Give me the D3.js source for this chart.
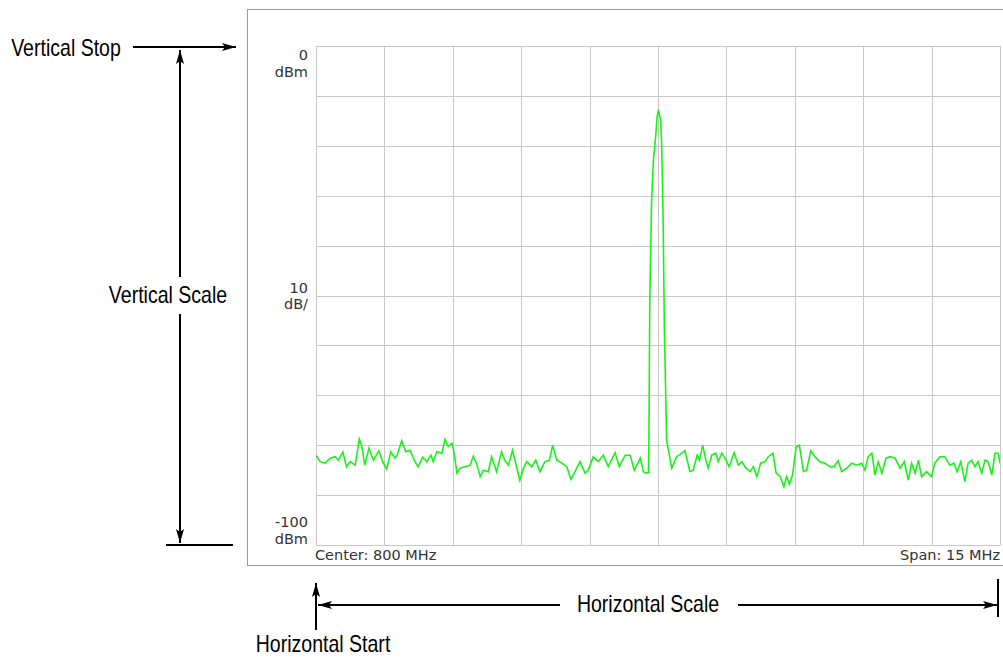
<!DOCTYPE html>
<html>
<head>
<meta charset="utf-8">
<script src="https://cdn.jsdelivr.net/npm/d3@7"></script>
<style>
    body { margin: 0; background: #fff; }
    .note { font-family: 'Liberation Sans', Arial, sans-serif; font-size: 23px; fill: #000; }
    .scr { font-family: 'DejaVu Sans', Verdana, sans-serif; font-size: 14.5px; fill: #333; }
    .grid line { stroke: #c8c8c8; stroke-width: 1; shape-rendering: crispEdges; }
    .grid .domain { display: none; }
</style>
</head>
<body>
<svg id="chart" width="1003" height="658"></svg>
<script>
'use strict';

//analyzer settings
var centerMHz = 800;
var spanMHz = 15;
var refLevel = 0;
var bottomLevel = -100;
var divisions = 10;

//screen readouts: [value line, unit line]
var levelLabels = [['0', 'dBm'], ['10', 'dB/'], ['-100', 'dBm']];
var footLabels = ['Center: 800 MHz', 'Span: 15 MHz'];
var notes = ['Vertical Stop', 'Vertical Scale', 'Horizontal Scale', 'Horizontal Start'];

//trace (MHz / dBm)
var freqs = [
    792.50, 792.59, 792.70, 792.81, 792.92, 792.99, 793.09, 793.17, 793.25, 793.36,
    793.45, 793.50, 793.57, 793.66, 793.76, 793.88, 793.96, 794.05, 794.14, 794.23,
    794.28, 794.38, 794.47, 794.56, 794.67, 794.74, 794.84, 794.93, 795.02, 795.07,
    795.15, 795.26, 795.33, 795.40, 795.48, 795.53, 795.59, 795.66, 795.77, 795.88,
    795.95, 796.02, 796.10, 796.17, 796.28, 796.35, 796.46, 796.57, 796.64, 796.72,
    796.81, 796.89, 796.97, 797.05, 797.12, 797.23, 797.32, 797.41, 797.52, 797.62,
    797.69, 797.78, 797.89, 798.00, 798.09, 798.18, 798.29, 798.40, 798.47, 798.58,
    798.69, 798.80, 798.91, 799.06, 799.15, 799.28, 799.39, 799.48, 799.61, 799.68,
    799.75, 799.79,
    799.80, 799.82, 799.86, 799.90, 799.95, 799.98, 800.01, 800.06, 800.08, 800.11,
    800.14, 800.19, 800.21,
    800.30, 800.41, 800.52, 800.59, 800.70, 800.77, 800.86, 800.91, 800.98, 801.05,
    801.10, 801.18, 801.27, 801.32, 801.40, 801.47, 801.56, 801.67, 801.76, 801.84,
    801.93, 802.02, 802.09, 802.17, 802.25, 802.35, 802.42, 802.52, 802.59, 802.68,
    802.76, 802.82, 802.88, 802.95, 803.03, 803.10, 803.19, 803.26, 803.35, 803.44,
    803.55, 803.66, 803.77, 803.86, 803.95, 804.03, 804.14, 804.25, 804.36, 804.47,
    804.54, 804.61, 804.69, 804.76, 804.83, 804.91, 805.00, 805.09, 805.20, 805.31,
    805.40, 805.49, 805.56, 805.64, 805.71, 805.78, 805.89, 806.00, 806.07, 806.18,
    806.29, 806.40, 806.49, 806.56, 806.64, 806.73, 806.80, 806.88, 806.95, 807.02,
    807.10, 807.17, 807.24, 807.32, 807.39, 807.46, 807.50
];
var levels = [
    -82.0, -83.3, -83.6, -82.6, -82.3, -83.0, -81.4, -84.3, -83.3, -84.0,
    -78.8, -80.0, -84.0, -80.6, -83.0, -81.1, -83.3, -84.8, -81.3, -82.6,
    -82.0, -79.1, -81.3, -81.0, -83.3, -84.3, -82.4, -83.3, -82.0, -83.3,
    -81.3, -81.6, -78.8, -80.3, -79.6, -81.6, -85.6, -84.6, -84.3, -84.0,
    -82.2, -83.6, -86.3, -85.0, -85.3, -82.3, -85.3, -81.3, -83.0, -84.0,
    -81.0, -84.0, -87.0, -84.6, -83.3, -84.3, -83.0, -85.3, -83.3, -83.0,
    -80.0, -83.0, -83.6, -84.3, -86.8, -85.3, -83.3, -85.6, -85.0, -82.3,
    -83.3, -82.0, -84.3, -81.5, -84.3, -82.0, -82.0, -85.0, -82.6, -85.3,
    -85.6, -85.5,
    -80.0, -50.9, -30.9, -22.8, -18.0, -14.2, -12.8, -15.0, -19.6, -32.9,
    -56.9, -79.0, -80.0,
    -84.6, -82.3, -81.6, -81.1, -85.3, -85.0, -82.0, -83.0, -80.0, -83.0,
    -84.6, -82.0, -81.6, -83.3, -81.6, -82.6, -84.3, -81.5, -84.0, -83.3,
    -84.6, -85.3, -84.3, -86.3, -83.6, -83.3, -82.3, -81.6, -85.6, -86.3,
    -88.3, -86.3, -87.8, -86.0, -80.3, -80.0, -85.3, -85.0, -81.1, -82.3,
    -83.3, -83.6, -84.3, -84.3, -83.1, -85.3, -84.6, -83.6, -84.0, -83.6,
    -85.0, -82.3, -81.6, -86.0, -83.3, -85.6, -82.6, -82.3, -82.6, -84.6,
    -83.3, -87.0, -83.6, -85.6, -83.0, -86.3, -85.3, -86.3, -83.6, -82.3,
    -82.3, -84.0, -83.6, -85.3, -83.3, -87.3, -83.6, -83.0, -84.3, -83.3,
    -85.6, -83.0, -83.3, -86.0, -81.6, -81.6, -83.6
];

var svg = d3.select('#chart');

//screen graticule box
var box = { left: 316, right: 1000, top: 46, bottom: 545 };

var x = d3.scaleLinear()
    .domain([centerMHz - spanMHz / 2, centerMHz + spanMHz / 2])
    .range([box.left, box.right]);
var y = d3.scaleLinear()
    .domain([refLevel, bottomLevel])
    .range([box.top, box.bottom]);

//arrow head for the callouts
svg.append('defs').append('marker')
    .attr('id', 'head')
    .attr('viewBox', '0 0 14 8')
    .attr('refX', 14)
    .attr('refY', 4)
    .attr('markerWidth', 14)
    .attr('markerHeight', 8)
    .attr('markerUnits', 'userSpaceOnUse')
    .attr('orient', 'auto-start-reverse')
    .append('path')
    .attr('d', 'M0,0 L14,4 L0,8 L3,4 z')
    .attr('fill', '#000');

svg.append('clipPath').attr('id', 'plotClip')
    .append('rect')
    .attr('x', box.left)
    .attr('y', box.top)
    .attr('width', box.right - box.left)
    .attr('height', box.bottom - box.top);

//outer screen frame
svg.append('rect')
    .attr('x', 247.5)
    .attr('y', 9.5)
    .attr('width', 770)
    .attr('height', 556)
    .style('fill', 'none')
    .style('stroke', '#9a9a9a');

//graticule from the axes
var xStep = spanMHz / divisions;
var yStep = (refLevel - bottomLevel) / divisions;
svg.append('g')
    .attr('class', 'grid')
    .attr('transform', 'translate(0,' + box.bottom + ')')
    .call(d3.axisBottom(x)
        .tickValues(d3.range(divisions + 1).map(function (i) { return x.domain()[0] + i * xStep; }))
        .tickSize(-(box.bottom - box.top))
        .tickFormat(''));
svg.append('g')
    .attr('class', 'grid')
    .attr('transform', 'translate(' + box.left + ',0)')
    .call(d3.axisLeft(y)
        .tickValues(d3.range(divisions + 1).map(function (i) { return refLevel - i * yStep; }))
        .tickSize(-(box.right - box.left))
        .tickFormat(''));

//trace
var line = d3.line()
    .x(function (d) { return x(d[0]); })
    .y(function (d) { return y(d[1]); });
svg.append('path')
    .datum(d3.zip(freqs, levels))
    .attr('clip-path', 'url(#plotClip)')
    .attr('d', line)
    .style('fill', 'none')
    .style('stroke', '#19f219')
    .style('stroke-width', 1.6);

//level readouts left of the screen
var labelY = [[60, 77], [293, 309], [527, 544]];
levelLabels.forEach(function (pair, i) {
    pair.forEach(function (t, j) {
        svg.append('text')
            .attr('class', 'scr')
            .attr('x', 308)
            .attr('y', labelY[i][j])
            .attr('text-anchor', 'end')
            .text(t);
    });
});

svg.append('text').attr('class', 'scr').attr('x', 315).attr('y', 560).text(footLabels[0]);
svg.append('text').attr('class', 'scr').attr('x', 900).attr('y', 560).text(footLabels[1]);

//callouts
function arrow(x1, y1, x2, y2) {
    return svg.append('line')
        .attr('x1', x1).attr('y1', y1)
        .attr('x2', x2).attr('y2', y2)
        .style('stroke', '#000')
        .style('stroke-width', 2)
        .attr('marker-end', 'url(#head)');
}
function rule(x1, y1, x2, y2) {
    svg.append('line')
        .attr('x1', x1).attr('y1', y1)
        .attr('x2', x2).attr('y2', y2)
        .style('stroke', '#000')
        .style('stroke-width', 2);
}
//narrow callout text, squeezed horizontally
function note(t, cx, by) {
    svg.append('text')
        .attr('class', 'note')
        .attr('text-anchor', 'middle')
        .attr('transform', 'translate(' + cx + ',' + by + ') scale(0.85,1)')
        .text(t);
}

note(notes[0], 66, 56);
arrow(133, 47, 236, 47);

note(notes[1], 168, 303);
arrow(180, 277, 180, 50);
arrow(180, 314, 180, 543);
rule(166, 545, 233, 545);

note(notes[2], 648, 612);
arrow(560, 605, 318, 605);
arrow(738, 605, 997, 605);
rule(998, 579, 998, 617);

arrow(316, 630, 316, 583);
note(notes[3], 323, 652);
</script>
</body>
</html>
